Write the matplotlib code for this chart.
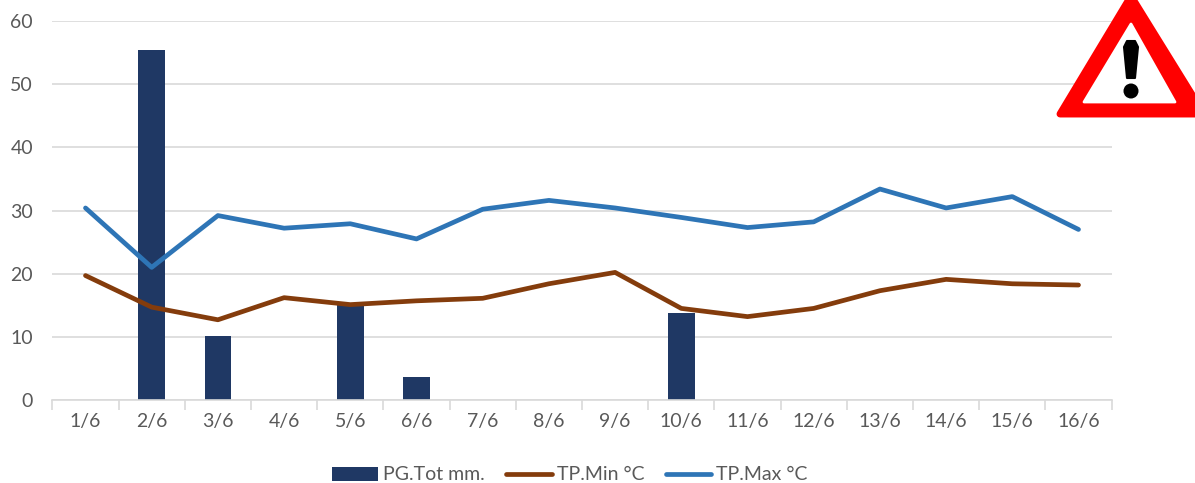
import matplotlib
matplotlib.use('Agg')
import matplotlib.pyplot as plt
from matplotlib.patches import Polygon, Circle
from matplotlib.transforms import Affine2D

# 1/6 .. 16/6
dias = ['1/6', '2/6', '3/6', '4/6', '5/6', '6/6', '7/6', '8/6',
        '9/6', '10/6', '11/6', '12/6', '13/6', '14/6', '15/6', '16/6']
pg_tot = [0, 55.4, 10.2, 0, 15.2, 3.6, 0, 0, 0, 13.8, 0, 0, 0, 0, 0, 0]
tp_min = [19.7, 14.7, 12.7, 16.2, 15.1, 15.7, 16.1, 18.4,
          20.2, 14.5, 13.2, 14.5, 17.3, 19.1, 18.4, 18.2]
tp_max = [30.4, 21.0, 29.2, 27.2, 27.9, 25.5, 30.2, 31.6,
          30.4, 28.9, 27.3, 28.2, 33.4, 30.4, 32.2, 27.0]
y_ticks = [0, 10, 20, 30, 40, 50, 60]

W, H = 1195, 483
plt.rcParams['font.family'] = ['Lato', 'DejaVu Sans']

fig = plt.figure(figsize=(W / 100, H / 100), dpi=100)
ax = fig.add_axes([52.4 / W, 1 - 400 / H, (1111.6 - 52.4) / W, 379 / H])

x = list(range(len(dias)))
barras = ax.bar(x, pg_tot, width=0.4, color='#1f3864', label='PG.Tot mm.', zorder=2)
l_min, = ax.plot(x, tp_min, color='#843c0c', lw=3.4, solid_capstyle='round', label='TP.Min °C', zorder=3)
l_max, = ax.plot(x, tp_max, color='#2e75b6', lw=3.4, solid_capstyle='round', label='TP.Max °C', zorder=4)

ax.set_xlim(-0.5, 15.5)
ax.set_ylim(0, 60)
ax.set_yticks(y_ticks)
ax.set_xticks(x)
ax.set_xticklabels(dias)
# separadores entre dias
ax.set_xticks([i - 0.5 for i in range(17)], minor=True)
ax.tick_params(axis='x', which='major', length=0, pad=9, labelsize=14, labelcolor='#595959')
ax.tick_params(axis='x', which='minor', length=7, width=1.2, color='#d9d9d9')
ax.tick_params(axis='y', length=0, pad=14, labelsize=14, labelcolor='#595959')
ax.grid(axis='y', color='#d9d9d9', lw=1.2, zorder=0)
ax.set_axisbelow(True)
for s in ['top', 'right', 'left']:
    ax.spines[s].set_visible(False)
ax.spines['bottom'].set_color('#d9d9d9')
ax.spines['bottom'].set_linewidth(1.2)

fig.legend(handles=[barras, l_min, l_max], loc='center', bbox_to_anchor=(570 / W, 1 - 475 / H),
           ncol=3, frameon=False, fontsize=14, labelcolor='#595959', handlelength=2.35,
           handletextpad=0.25, columnspacing=1.1, borderpad=0, borderaxespad=0)

# triangulo de aviso, en pixeles de la imagen
px = Affine2D().scale(1, -1).translate(0, H)
fig.add_artist(Polygon([(1060, 114), (1131, -4), (1204, 114)], closed=True, transform=px,
                       fc='#ff0000', ec='#ff0000', lw=5, joinstyle='round', zorder=10))
fig.add_artist(Polygon([(1084, 102), (1131, 24), (1175, 102)], closed=True, transform=px,
                       fc='white', ec='white', lw=2, joinstyle='round', zorder=11))
fig.add_artist(Polygon([(1124, 47), (1127, 41), (1135, 41), (1138, 47), (1135, 78), (1127, 78)],
                       closed=True, transform=px, fc='black', ec='black', lw=1.5,
                       joinstyle='round', zorder=12))
fig.add_artist(Circle((1131, 91), 7.5, transform=px, fc='black', ec='none', zorder=12))

fig.savefig('out.png', dpi=100)
